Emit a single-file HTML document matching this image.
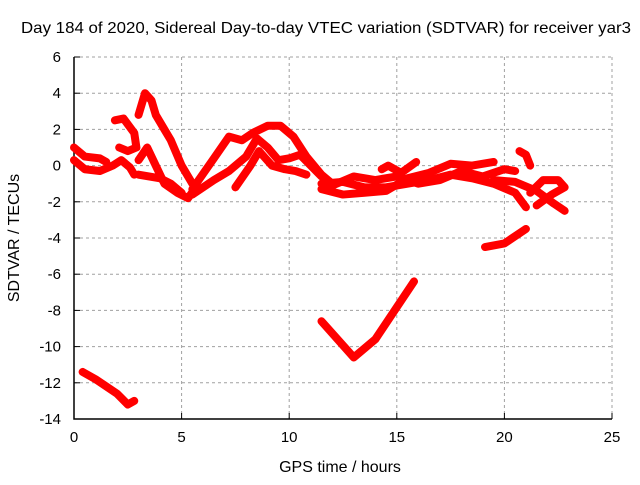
<!DOCTYPE html>
<html><head><meta charset="utf-8"><style>
body{margin:0;background:#fff}
svg text{font-family:"Liberation Sans",sans-serif;font-size:15px;fill:#000}
svg text.big{font-size:16px}
</style></head><body>
<svg id="chart" width="640" height="480" xmlns="http://www.w3.org/2000/svg">
<text class="big" x="326" y="33" text-anchor="middle" textLength="610" lengthAdjust="spacingAndGlyphs">Day 184 of 2020, Sidereal Day-to-day VTEC variation (SDTVAR) for receiver yar3</text>
<text class="big" x="340" y="472" text-anchor="middle">GPS time / hours</text>
<text class="big" transform="translate(19,238) rotate(-90)" text-anchor="middle">SDTVAR / TECUs</text>
<g id="grid"></g><g id="axes"></g><g id="series"></g>
</svg>
<script>
const xTicks=[0,5,10,15,20,25];
const yTicks=[6,4,2,0,-2,-4,-6,-8,-10,-12,-14];
const traceA=[[0,1.0],[0.5,0.5],[1.2,0.4],[1.5,0.2]];
const traceB=[[0,0.3],[0.5,-0.2],[1.2,-0.3],[1.8,0],[2.2,0.3],[2.6,-0.1],[2.8,-0.5]];
const traceC=[[1.9,2.5],[2.3,2.6],[2.8,1.8],[2.9,1.0],[2.5,0.8],[2.1,1.0]];
const traceD=[[3.0,2.8],[3.3,4.0],[3.6,3.6],[3.8,2.8],[4.2,2.0],[4.5,1.4],[5,0],[5.5,-1.0]];
const traceE=[[3.0,0.3],[3.4,1.0],[3.8,0],[4.2,-1],[4.8,-1.5],[5.3,-1.8],[5.6,-1.3]];
const traceF=[[3.0,-0.5],[4.0,-0.7],[4.5,-1.0],[5.0,-1.5]];
const traceG=[[5.5,-1.3],[6.5,0.4],[7.2,1.6],[7.8,1.4],[8.3,1.8],[9,2.2],[9.6,2.2],[10.2,1.6],[10.8,0.5],[11.5,-0.5],[12,-1.0]];
const traceH=[[5.5,-1.6],[6.5,-0.8],[7.2,-0.3],[8.0,0.5],[8.5,1.5],[9.0,1.0],[9.5,0.3],[10,0.4],[10.5,0.6],[11,0],[11.5,-0.6]];
const traceI=[[7.5,-1.2],[8.2,0],[8.6,0.8],[9.2,0],[9.8,-0.2],[10.3,-0.3],[10.8,-0.5]];
const traceJ=[[11.5,-1.0],[12.5,-0.9],[13.5,-1.2],[14.5,-1.2],[15.5,-1.0],[16.5,-0.8],[17.5,-0.5],[18.5,-0.7],[19.5,-1.0],[20.5,-1.5],[21,-2.3]];
const traceK=[[11.5,-1.3],[12.5,-1.6],[13.5,-1.5],[14.5,-1.4],[15.5,-0.7],[16.5,-0.4],[17.5,0.1],[18.5,0.0],[19.5,0.2]];
const traceL=[[14.3,-0.2],[14.6,0],[15.2,-0.4],[15.9,0.2]];
const traceM=[[12,-1.1],[13,-0.6],[14,-0.8],[15,-0.6],[16,-1.0],[17,-0.8],[18,-0.3],[19,-0.6],[20,-0.2],[20.5,-0.3]];
const traceN=[[19.5,-0.8],[20.5,-0.9],[21.5,-1.4],[22.3,-2.1],[22.8,-2.5]];
const traceO=[[21.2,-1.5],[21.8,-0.8],[22.5,-0.8],[22.8,-1.2],[22.2,-1.6],[21.5,-2.2]];
const traceP=[[20.7,0.8],[21.0,0.6],[21.2,0.0]];
const traceQ=[[0.4,-11.4],[1,-11.8],[2,-12.6],[2.5,-13.2],[2.8,-13.0]];
const traceR=[[11.5,-8.6],[13,-10.6],[14,-9.6],[15.8,-6.4]];
const traceS=[[19.1,-4.5],[20,-4.3],[21,-3.5]];
const traces=[traceA,traceB,traceC,traceD,traceE,traceF,traceG,traceH,traceI,traceJ,traceK,traceL,traceM,traceN,traceO,traceP,traceQ,traceR,traceS];
const X0=74,X1=612,Y0=57,Y1=419;
const sx=h=>X0+(h-0)/25*(X1-X0);
const sy=v=>Y0+(6-v)/20*(Y1-Y0);
const NS="http://www.w3.org/2000/svg";
function mk(tag,attrs,parent){const e=document.createElementNS(NS,tag);for(const k in attrs)e.setAttribute(k,attrs[k]);parent.appendChild(e);return e;}
const grid=document.getElementById('grid'),axes=document.getElementById('axes'),ser=document.getElementById('series');
xTicks.forEach(t=>{
  const x=sx(t);
  if(t>0){const g=mk('line',{x1:x,y1:Y0,x2:x,y2:Y1,stroke:'#a0a0a0','stroke-dasharray':'3,3'},grid);
  
  }
  const tk=mk('line',{x1:x,y1:Y1,x2:x,y2:Y1-6,stroke:'#000'},axes);
  
  
  const l=mk('text',{x:x,y:Y1+23,'text-anchor':'middle'},axes);l.textContent=t;
  
  
});
yTicks.forEach(t=>{
  const y=sy(t);
  if(t>-14){const g=mk('line',{x1:X0,y1:y,x2:X1,y2:y,stroke:'#a0a0a0','stroke-dasharray':'3,3'},grid);
  
  }
  const tk=mk('line',{x1:X0,y1:y,x2:X0+6,y2:y,stroke:'#000'},axes);
  
  
  const l=mk('text',{x:X0-13,y:y+5,'text-anchor':'end'},axes);l.textContent=t;
  
  
});
const ax=mk('path',{d:`M${X0},${Y0}V${Y1}H${X1}`,fill:'none',stroke:'#000','stroke-width':1.5},axes);


traces.forEach(tr=>{
  const p=mk('polyline',{points:tr.map(d=>sx(d[0])+','+sy(d[1])).join(' '),fill:'none',stroke:'#ff0000','stroke-width':8,'stroke-linejoin':'round','stroke-linecap':'round'},ser);
  
  
});
</script>
</body></html>
